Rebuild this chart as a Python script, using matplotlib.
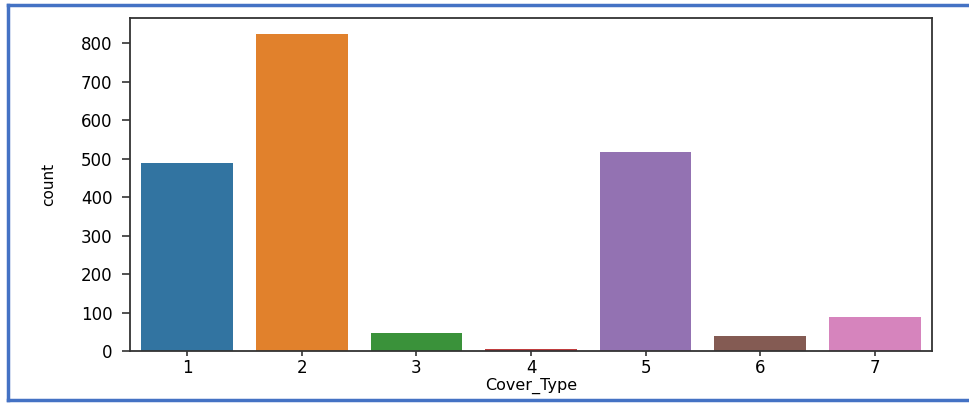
import matplotlib.pyplot as plt
from matplotlib.lines import Line2D

cover_types = ['1', '2', '3', '4', '5', '6', '7']
counts = [488, 824, 46, 4, 518, 38, 88]
colors = ['#3274a1', '#e1812c', '#3a923a', '#c03d3e', '#9372b2', '#845b53', '#d684bd']

fig = plt.figure(figsize=(9.69, 4.03), dpi=100)
ax = fig.add_axes([0.134, 0.129, 0.828, 0.826])

ax.bar(range(len(cover_types)), counts, width=0.8, color=colors)
ax.set_xlim(-0.5, len(cover_types) - 0.5)
ax.set_ylim(0, max(counts) * 1.05)
ax.set_xticks(range(len(cover_types)))
ax.set_xticklabels(cover_types)
ax.set_yticks(range(0, 900, 100))
ax.tick_params(labelsize=12, width=1.2, color='#333333')
ax.tick_params(axis='y', length=5.5, pad=7)
ax.tick_params(axis='x', length=3.5, pad=2)
for s in ax.spines.values():
    s.set_linewidth(1.3)
    s.set_color('#333333')
ax.set_xlabel('Cover_Type', fontsize=11.5, labelpad=1)
ax.set_ylabel('count', fontsize=11, labelpad=18)

# blue frame of the screenshot
blue = '#4472c4'
fig.add_artist(Line2D([0.008, 1.0], [0.988, 0.988], color=blue, lw=2.5, transform=fig.transFigure))
fig.add_artist(Line2D([0.008, 1.0], [0.008, 0.008], color=blue, lw=2.5, transform=fig.transFigure))
fig.add_artist(Line2D([0.008, 0.008], [0.008, 0.988], color=blue, lw=2.5, transform=fig.transFigure))

fig.savefig('out.png', dpi=100)
